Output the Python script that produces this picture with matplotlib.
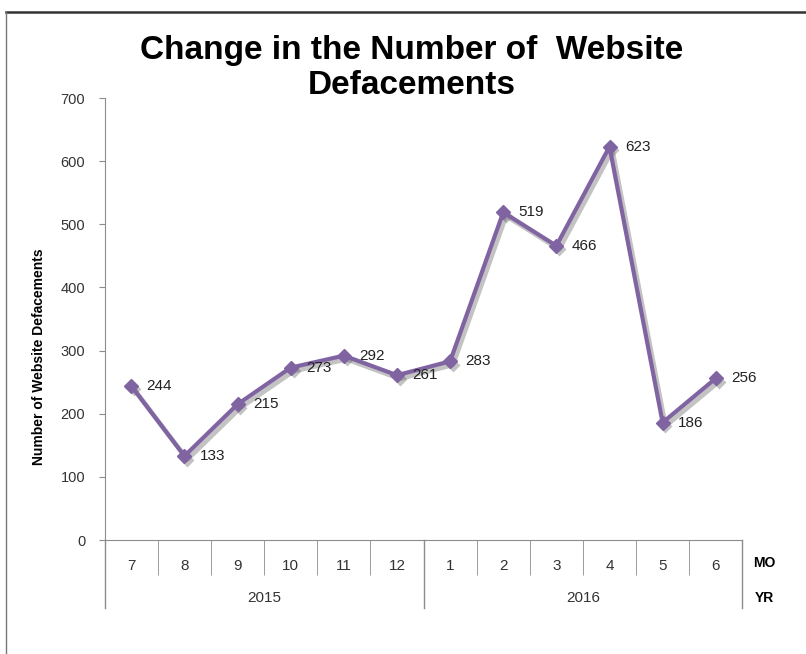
import matplotlib as mpl
mpl.use('Agg')
import matplotlib.pyplot as plt
from matplotlib.lines import Line2D
import matplotlib.transforms as mtrans

plt.rcParams['font.family'] = ['Liberation Sans', 'DejaVu Sans']

months = ['7', '8', '9', '10', '11', '12', '1', '2', '3', '4', '5', '6']
years = ['2015', '2016']
months_per_year = [6, 6]
defacements = [244, 133, 215, 273, 292, 261, 283, 519, 466, 623, 186, 256]
yticks = [0, 100, 200, 300, 400, 500, 600, 700]

purple = '#8064A2'
grey = '#8c8c8c'

fig = plt.figure(figsize=(8.06, 6.54), dpi=100)
ax = fig.add_axes([0.130, 0.1743, 0.791, 0.6758])

x = list(range(len(months)))
# soft drop shadow under the series
shadow = ax.transData + mtrans.ScaledTranslation(2 / 72, -2.5 / 72, fig.dpi_scale_trans)
ax.plot(x, defacements, color='#555555', alpha=0.35, lw=3.5, marker='D', ms=7,
        mec='none', transform=shadow, zorder=2)
ax.plot(x, defacements, color=purple, lw=3, marker='D', ms=7, mec=purple, mfc=purple,
        zorder=3)
for xi, v in zip(x, defacements):
    ax.annotate(str(v), (xi, v), xytext=(11, 0), textcoords='offset points',
                ha='left', va='center', fontsize=11, color='#222222')

ax.set_xlim(-0.5, len(months) - 0.5)
ax.set_ylim(0, 700)
ax.set_yticks(yticks)
ax.tick_params(axis='y', direction='out', length=4, color=grey, labelsize=10.5,
               labelcolor='#333333', pad=10)

for s in ['top', 'right']:
    ax.spines[s].set_visible(False)
for s in ['left', 'bottom']:
    ax.spines[s].set_color(grey)

# month labels + separators
ax.set_xticks(x)
ax.set_xticklabels(months, fontsize=11, color='#333333')
ax.tick_params(axis='x', length=0, pad=14)
ax.set_xticks([i - 0.5 for i in range(len(months) + 1)], minor=True)
ax.tick_params(axis='x', which='minor', length=25, color=grey, direction='out')

# year row
trans = ax.get_xaxis_transform()
start = -0.5
for yr, n in zip(years, months_per_year):
    ax.text(start + n / 2, -0.131, yr, transform=trans, ha='center', va='center',
            fontsize=11, color='#333333')
    start += n
bounds = [-0.5]
for n in months_per_year:
    bounds.append(bounds[-1] + n)
for b in bounds:
    ax.add_line(Line2D([b, b], [0, -0.154], transform=trans, color=grey, lw=1, clip_on=False))

ax.text(1.035, -0.052, 'MO', transform=ax.transAxes, ha='center', va='center',
        fontsize=10, fontweight='bold')
ax.text(1.035, -0.131, 'YR', transform=ax.transAxes, ha='center', va='center',
        fontsize=10, fontweight='bold')

fig.text(0.048, 0.454, 'Number of Website Defacements', rotation=90, ha='center',
         va='center', fontsize=10, fontweight='bold')
fig.text(0.511, 0.896, 'Change in the Number of  Website\nDefacements', ha='center',
         va='center', fontsize=24, fontweight='bold', linespacing=1.2)

# outer frame
fig.add_artist(Line2D([6 / 806, 1], [1 - 12 / 654, 1 - 12 / 654], color='#333333', lw=1.8))
fig.add_artist(Line2D([6 / 806, 6 / 806], [0, 1 - 12 / 654], color='#777777', lw=1))

fig.savefig('out.png', dpi=100)
